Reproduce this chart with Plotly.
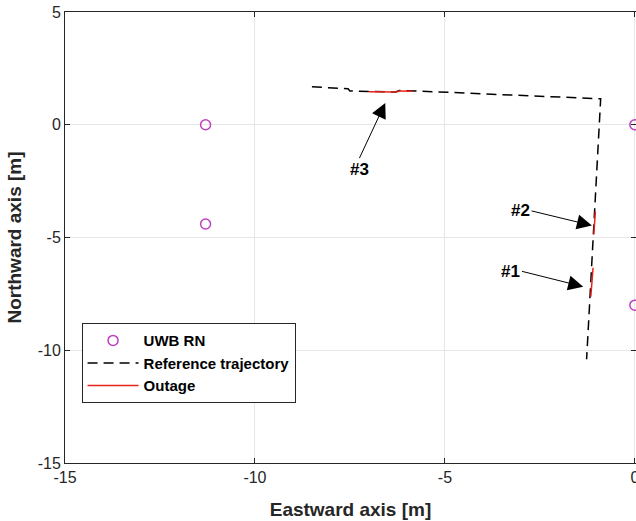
import plotly.graph_objects as go

# UWB reference nodes
rn_x = [-11.3, -11.3, 0.0, 0.0]
rn_y = [0.0, -4.4, 0.0, -8.0]

# Reference trajectory
traj_x = [-8.5, -7.55, -7.5, -6.3, -6.2, -5.8, -0.9, -1.27]
traj_y = [1.68, 1.60, 1.50, 1.45, 1.52, 1.50, 1.15, -10.4]

# Outage segments (#3, #2, #1), separated by None
out_x = [-7.0, -6.27, -6.2, -5.85, None, -1.04, -1.08, None, -1.10, -1.16]
out_y = [1.46, 1.45, 1.50, 1.49, None, -3.84, -4.87, None, -6.34, -7.62]

# Annotation labels: text, tip (x, y), tail (x, y)
ann_labels = ["#3", "#2", "#1"]
ann_tip_x = [-6.57, -1.13, -1.36]
ann_tip_y = [0.97, -4.47, -7.18]
ann_tail_x = [-7.25, -2.72, -2.97]
ann_tail_y = [-1.48, -3.82, -6.5]
ann_xanchor = ["center", "right", "right"]
ann_yanchor = ["top", "middle", "middle"]

x_ticks = [-15, -10, -5, 0]
y_ticks = [5, 0, -5, -10, -15]

FONT = "Liberation Sans, Arial, sans-serif"
AX = "#262626"

fig = go.Figure()
fig.add_trace(go.Scatter(
    x=rn_x, y=rn_y, mode="markers", name="UWB RN",
    marker=dict(symbol="circle-open", size=10, color="#BF40BF", line=dict(width=1.5)),
    cliponaxis=False,
))
fig.add_trace(go.Scatter(
    x=traj_x, y=traj_y, mode="lines", name="Reference trajectory",
    line=dict(color="black", width=1.5, dash="10px,6px"),
))
fig.add_trace(go.Scatter(
    x=out_x, y=out_y, mode="lines", name="Outage",
    line=dict(color="#E8231A", width=1.5), connectgaps=False,
))

for t, tx, ty, ax, ay, xa, ya in zip(ann_labels, ann_tip_x, ann_tip_y,
                                      ann_tail_x, ann_tail_y, ann_xanchor, ann_yanchor):
    fig.add_annotation(
        x=tx, y=ty, ax=ax, ay=ay, axref="x", ayref="y", xref="x", yref="y",
        text="<b>%s</b>" % t, showarrow=True, arrowhead=2, arrowsize=3,
        arrowwidth=1, arrowcolor="black", xanchor=xa, yanchor=ya,
        font=dict(family=FONT, size=17, color="black"),
    )

fig.update_layout(
    width=636, height=521,
    margin=dict(l=65, r=0, t=12, b=58, autoexpand=False),
    paper_bgcolor="white", plot_bgcolor="white",
    font=dict(family=FONT, size=16, color=AX),
    showlegend=True,
    legend=dict(
        x=0.029, y=0.31, xanchor="left", yanchor="top",
        bgcolor="white", bordercolor=AX, borderwidth=1,
        font=dict(family=FONT, size=15, color="black", weight="bold"),
        tracegroupgap=0, itemwidth=51,
    ),
    xaxis=dict(
        range=[-15, 0.03], tickvals=x_ticks, ticktext=[str(v) for v in x_ticks],
        showgrid=True, gridcolor="#E6E6E6", zeroline=False, automargin=False,
        showline=True, linecolor=AX, linewidth=1, mirror="allticks",
        ticks="inside", ticklen=5, tickcolor=AX, ticklabeloverflow="allow",
        title=dict(text="<b>Eastward axis [m]</b>", font=dict(size=19, color=AX), standoff=17),
    ),
    yaxis=dict(
        range=[-15, 5], tickvals=y_ticks, ticktext=[str(v) for v in y_ticks],
        showgrid=True, gridcolor="#E6E6E6", zeroline=False, automargin=False,
        showline=True, linecolor=AX, linewidth=1, mirror="allticks",
        ticks="inside", ticklen=5, tickcolor=AX, ticklabeloverflow="allow",
        title=dict(text="<b>Northward axis [m]</b>", font=dict(size=19, color=AX), standoff=11),
    ),
)

fig.write_html(
    "out.html",
    config={"responsive": False, "displayModeBar": False},
    post_script="document.body.style.margin='0';document.body.style.overflow='hidden';",
)
